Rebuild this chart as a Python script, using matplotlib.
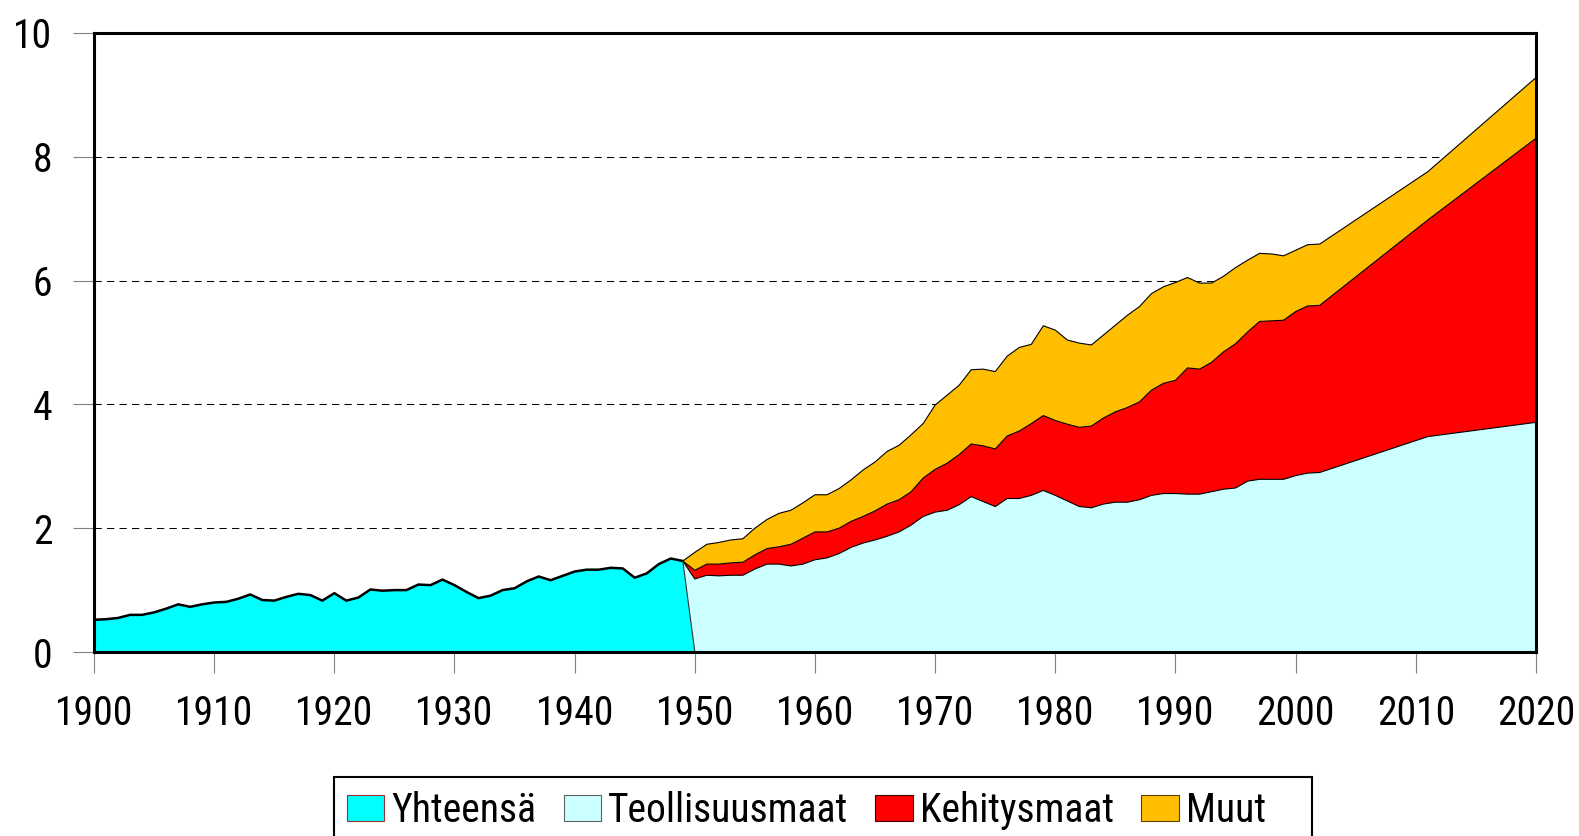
import matplotlib
matplotlib.use("Agg")
import matplotlib.pyplot as plt
from matplotlib.patches import Patch, Rectangle
from matplotlib import font_manager
import numpy as np

# ---------------- data ----------------
years_total = list(range(1900, 1951))
yhteensa = [0.52, 0.53, 0.55, 0.60, 0.60, 0.64, 0.70, 0.77, 0.73, 0.77,
            0.80, 0.81, 0.86, 0.93, 0.84, 0.83, 0.89, 0.94, 0.92, 0.83,
            0.95, 0.83, 0.88, 1.01, 0.99, 1.00, 1.00, 1.09, 1.08, 1.17,
            1.08, 0.97, 0.87, 0.91, 1.00, 1.03, 1.14, 1.22, 1.16, 1.23,
            1.30, 1.33, 1.33, 1.36, 1.35, 1.20, 1.27, 1.42, 1.51, 1.47,
            0.00]

years_split = list(range(1949, 2003)) + [2011, 2020]
teollisuusmaat = [1.47, 1.18, 1.24, 1.23, 1.24, 1.24, 1.34, 1.42, 1.42, 1.39,
                  1.42, 1.49, 1.52, 1.59, 1.69, 1.76, 1.81, 1.87, 1.94, 2.05,
                  2.19, 2.26, 2.29, 2.38, 2.51, 2.43, 2.35, 2.48, 2.48, 2.53,
                  2.61, 2.53, 2.44, 2.35, 2.33, 2.39, 2.42, 2.42, 2.46, 2.53,
                  2.56, 2.56, 2.55, 2.55, 2.59, 2.63, 2.65, 2.76, 2.79, 2.79,
                  2.79, 2.85, 2.89, 2.90, 3.48, 3.71]
kehitysmaat = [0.00, 0.14, 0.18, 0.19, 0.20, 0.21, 0.23, 0.25, 0.28, 0.35,
               0.42, 0.45, 0.42, 0.41, 0.42, 0.43, 0.47, 0.52, 0.52, 0.54,
               0.62, 0.69, 0.76, 0.81, 0.85, 0.90, 0.93, 1.01, 1.09, 1.16,
               1.21, 1.21, 1.24, 1.28, 1.32, 1.39, 1.46, 1.53, 1.58, 1.70,
               1.78, 1.83, 2.04, 2.02, 2.09, 2.22, 2.33, 2.41, 2.55, 2.56,
               2.57, 2.65, 2.70, 2.70, 3.50, 4.59]
muut = [0.00, 0.29, 0.32, 0.35, 0.37, 0.38, 0.43, 0.47, 0.54, 0.55,
        0.57, 0.60, 0.60, 0.64, 0.67, 0.75, 0.79, 0.85, 0.88, 0.92,
        0.88, 1.04, 1.10, 1.12, 1.20, 1.24, 1.25, 1.29, 1.35, 1.28,
        1.45, 1.46, 1.36, 1.36, 1.31, 1.34, 1.40, 1.49, 1.54, 1.56,
        1.56, 1.58, 1.46, 1.39, 1.28, 1.22, 1.23, 1.16, 1.10, 1.08,
        1.04, 0.99, 0.99, 0.99, 0.78, 0.98]

labels = ["Yhteensä", "Teollisuusmaat", "Kehitysmaat", "Muut"]
x_ticks = list(range(1900, 2021, 10))
y_ticks = [0, 2, 4, 6, 8, 10]

# ---------------- style ----------------
names = {f.name for f in font_manager.fontManager.ttflist}
fam = "Liberation Sans"
for cand in ["Liberation Sans Narrow", "Arial Narrow", "Roboto Condensed",
             "Archivo Narrow", "Asap Condensed"]:
    if cand in names:
        fam = cand
        break
plt.rcParams["font.family"] = [fam, "DejaVu Sans"]
FS = 28.5

c_tot = "#00FFFF"
c_teo = "#CCFFFF"
c_keh = "#FF0000"
c_muu = "#FFBF00"

W, H = 1579, 836
fig = plt.figure(figsize=(W / 100, H / 100), dpi=100)
ax = fig.add_axes([94 / W, 1 - 652 / H, (1536 - 94) / W, (652 - 33) / H])

# grid
for yv in y_ticks[1:-1]:
    ax.axhline(yv, color="black", lw=0.75, ls=(0, (7, 5)), zorder=0.5)

# stacked split series
t = np.array(teollisuusmaat)
k = np.array(kehitysmaat)
m = np.array(muut)
ax.fill_between(years_split, 0, t, facecolor=c_teo, edgecolor="none", zorder=1)
ax.fill_between(years_split, t, t + k, facecolor=c_keh, edgecolor="none", zorder=1)
ax.fill_between(years_split, t + k, t + k + m, facecolor=c_muu, edgecolor="none", zorder=1)
for top in (t, t + k, t + k + m):
    ax.plot(years_split, top, color="black", lw=0.8, zorder=2)

# total series
ax.fill_between(years_total, 0, yhteensa, facecolor=c_tot, edgecolor="none", zorder=3)
ax.plot(years_total[:-1], yhteensa[:-1], color="black", lw=1.8, zorder=4,
        solid_joinstyle="round")
ax.plot(years_total[-2:], yhteensa[-2:], color="#333333", lw=0.8, zorder=4)

ax.set_xlim(1900, 2020)
ax.set_ylim(0, 10)
ax.set_xticks(x_ticks)
ax.set_yticks(y_ticks)
ax.tick_params(axis="both", direction="out", length=15, width=0.8, color="#808080",
               labelsize=FS, pad=15)
for s in ax.spines.values():
    s.set_linewidth(2.2)
    s.set_color("black")
    s.set_zorder(5)

handles = [
    Patch(facecolor=c_tot, edgecolor="#A03030", lw=0.8),
    Patch(facecolor=c_teo, edgecolor="#606060", lw=0.8),
    Patch(facecolor=c_keh, edgecolor="#400000", lw=0.8),
    Patch(facecolor=c_muu, edgecolor="#604000", lw=0.8),
]
leg = fig.legend(handles, labels, loc="upper left", ncol=4,
                 bbox_to_anchor=(333 / W, 1 - 777 / H),
                 bbox_transform=fig.transFigure, borderaxespad=0,
                 fontsize=FS, frameon=False,
                 handlelength=0.95, handleheight=0.62, handletextpad=0.18,
                 columnspacing=0.68, borderpad=0.35)

# legend frame (extends past the bottom edge, as in the original)
fig.patches.append(Rectangle((334 / W, -0.05), (1312 - 334) / W, 0.05 + (836 - 777) / H,
                             transform=fig.transFigure, facecolor="none",
                             edgecolor="black", lw=1.5, zorder=6))

fig.savefig("out.png", dpi=100)
